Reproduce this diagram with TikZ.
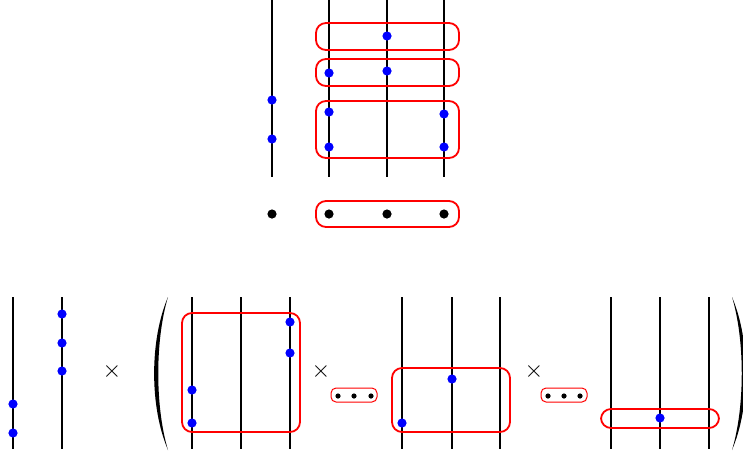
\documentclass[tikz,border=0pt]{standalone}
\tikzset{
  bdot/.style={circle, fill=blue, inner sep=0pt, minimum size=4.6pt},
  kdot/.style={circle, fill=black, inner sep=0pt, minimum size=4.6pt},
  sdot/.style={circle, fill=black, inner sep=0pt, minimum size=2.6pt},
  strand/.style={line width=0.9pt},
  grp/.style={draw=red, line width=0.9pt, rounded corners=5pt},
  sgrp/.style={draw=red, line width=0.5pt, rounded corners=2.5pt}
}
\begin{document}
\begin{tikzpicture}[x=0.5pt, y=-0.5pt]
  \useasboundingbox (0,0) rectangle (743,456);
  % top: strands
  \foreach \x in {272,329,387,444}
    \draw[strand] (\x,0) -- (\x,177);
  % top: groups
  \draw[grp] (316,23) rectangle (459,50);
  \draw[grp] (316,59) rectangle (459,86);
  \draw[grp] (316,101) rectangle (459,158);
  \draw[grp] (316,201) rectangle (459,227);
  % top: dots
  \node[bdot] (a1) at (272,100) {};
  \node[bdot] (a2) at (272,139) {};
  \node[bdot] (b1) at (329,73) {};
  \node[bdot] (b2) at (329,112) {};
  \node[bdot] (b3) at (329,147) {};
  \node[bdot] (c1) at (387,36) {};
  \node[bdot] (c2) at (387,71) {};
  \node[bdot] (d1) at (444,114) {};
  \node[bdot] (d2) at (444,147) {};
  \node[kdot] (e1) at (272,214) {};
  \node[kdot] (e2) at (329,214) {};
  \node[kdot] (e3) at (387,214) {};
  \node[kdot] (e4) at (444,214) {};
  % bottom: strands
  \foreach \x in {13,62,192,241,290,402,452,500,611,660,709}
    \draw[strand] (\x,297) -- (\x,449);
  % bottom: dots
  \node[bdot] (f1) at (13,404) {};
  \node[bdot] (f2) at (13,433) {};
  \node[bdot] (g1) at (62,314) {};
  \node[bdot] (g2) at (62,343) {};
  \node[bdot] (g3) at (62,371) {};
  \node (t1) at (112,371) {\large$\times$};
  % left bracket
  \fill (168,297) .. controls (149.5,340) and (149.5,407) .. (168,450)
    .. controls (155,407) and (155,340) .. (168,297) -- cycle;
  \draw[grp] (182,313) rectangle (300,432);
  \node[bdot] (h1) at (192,390) {};
  \node[bdot] (h2) at (192,423) {};
  \node[bdot] (h3) at (290,322) {};
  \node[bdot] (h4) at (290,353) {};
  \node (t2) at (321,371) {\large$\times$};
  \draw[sgrp] (331,388) rectangle (377,402);
  \node[sdot] (i1) at (338,396) {};
  \node[sdot] (i2) at (354,396) {};
  \node[sdot] (i3) at (371,396) {};
  \draw[grp] (392,368) rectangle (510,432);
  \node[bdot] (j1) at (402,423) {};
  \node[bdot] (j2) at (452,379) {};
  \node (t3) at (534,371) {\large$\times$};
  \draw[sgrp] (541,388) rectangle (587,402);
  \node[sdot] (k1) at (548,396) {};
  \node[sdot] (k2) at (564,396) {};
  \node[sdot] (k3) at (580,396) {};
  \draw[grp] (601,409) rectangle (719,428);
  \node[bdot] (l1) at (660,418) {};
  % right bracket
  \fill (732,297) .. controls (750.5,340) and (750.5,407) .. (732,450)
    .. controls (745,407) and (745,340) .. (732,297) -- cycle;
\end{tikzpicture}
\end{document}
